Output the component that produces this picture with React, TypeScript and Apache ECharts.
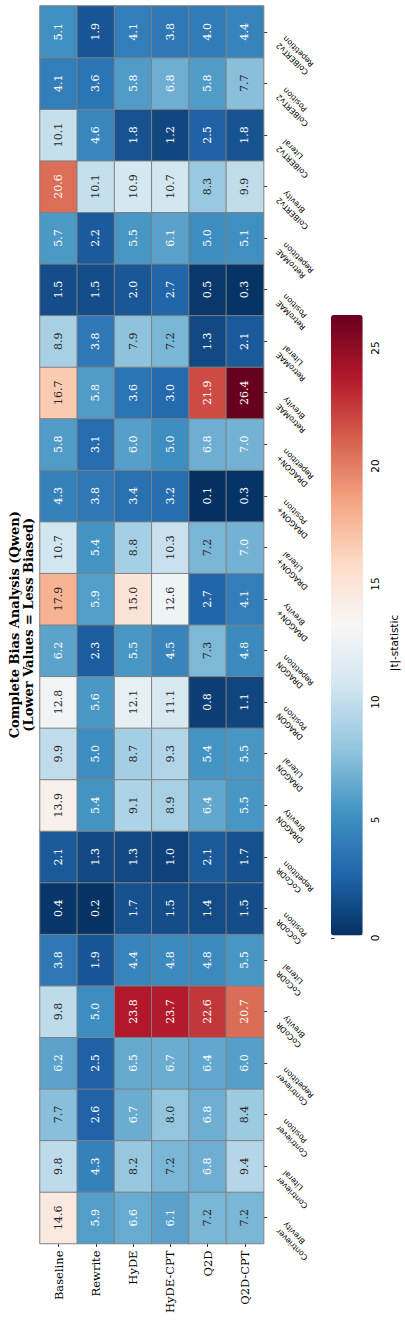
import React, { useEffect, useRef } from "react";
import * as echarts from "echarts";

const methods = ["Baseline", "Rewrite", "HyDE", "HyDE-CPT", "Q2D", "Q2D-CPT"];
const retrievers = ["Contriever", "CoCoDR", "DRAGON", "DRAGON+", "RetroMAE", "ColBERTv2"];
const biasTypes = ["Brevity", "Literal", "Position", "Repetition"];

// values ordered: Contriever Brevity, Literal, Position, Repetition, CoCoDR ..., ColBERTv2 Repetition
const baseline = [14.6, 9.8, 7.7, 6.2, 9.8, 3.8, 0.4, 2.1, 13.9, 9.9, 12.8, 6.2, 17.9, 10.7, 4.3, 5.8, 16.7, 8.9, 1.5, 5.7, 20.6, 10.1, 4.1, 5.1];
const rewrite = [5.9, 4.3, 2.6, 2.5, 5.0, 1.9, 0.2, 1.3, 5.4, 5.0, 5.6, 2.3, 5.9, 5.4, 3.8, 3.1, 5.8, 3.8, 1.5, 2.2, 10.1, 4.6, 3.6, 1.9];
const hyde = [6.6, 8.2, 6.7, 6.5, 23.8, 4.4, 1.7, 1.3, 9.1, 8.7, 12.1, 5.5, 15.0, 8.8, 3.4, 6.0, 3.6, 7.9, 2.0, 5.5, 10.9, 1.8, 5.8, 4.1];
const hydeCpt = [6.1, 7.2, 8.0, 6.7, 23.7, 4.8, 1.5, 1.0, 8.9, 9.3, 11.1, 4.5, 12.6, 10.3, 3.2, 5.0, 3.0, 7.2, 2.7, 6.1, 10.7, 1.2, 6.8, 3.8];
const q2d = [7.2, 6.8, 6.8, 6.4, 22.6, 4.8, 1.4, 2.1, 6.4, 5.4, 0.8, 7.3, 2.7, 7.2, 0.1, 6.8, 21.9, 1.3, 0.5, 5.0, 8.3, 2.5, 5.8, 4.0];
const q2dCpt = [7.2, 9.4, 8.4, 6.0, 20.7, 5.5, 1.5, 1.7, 5.5, 5.5, 1.1, 4.8, 4.1, 7.0, 0.3, 7.0, 26.4, 2.1, 0.3, 5.1, 9.9, 1.8, 7.7, 4.4];

const colorbarTickMax = 25;
const colorbarTickStep = 5;

const titleLines = ["Complete Bias Analysis (Qwen)", "(Lower Values = Less Biased)"];
const colorbarLabel = "|t|-statistic";

const palette = ["#053061", "#2166ac", "#4393c3", "#92c5de", "#d1e5f0", "#f7f7f7", "#fddbc7", "#f4a582", "#d6604d", "#b2182b", "#67001f"];

function hexToRgb(h: string) {
  return [parseInt(h.slice(1, 3), 16) / 255, parseInt(h.slice(3, 5), 16) / 255, parseInt(h.slice(5, 7), 16) / 255];
}

function colorAt(t: number) {
  const p = Math.max(0, Math.min(1, t)) * (palette.length - 1);
  const i = Math.min(palette.length - 2, Math.floor(p));
  const f = p - i;
  const a = hexToRgb(palette[i]);
  const b = hexToRgb(palette[i + 1]);
  return [0, 1, 2].map((k) => a[k] + (b[k] - a[k]) * f);
}

function luminance(rgb: number[]) {
  const lin = rgb.map((c) => (c <= 0.03928 ? c / 12.92 : Math.pow((c + 0.055) / 1.055, 2.4)));
  return 0.2126 * lin[0] + 0.7152 * lin[1] + 0.0722 * lin[2];
}

export default function App() {
  const ref = useRef<HTMLDivElement>(null);
  useEffect(() => {
    if (!ref.current) return;
    const chart = echarts.init(ref.current, null, { renderer: "svg" });
    const columns = [baseline, rewrite, hyde, hydeCpt, q2d, q2dCpt];
    const categories: string[] = [];
    retrievers.forEach((r) => biasTypes.forEach((b) => categories.push(r + "\n" + b)));
    const all = columns.flat();
    const vmin = Math.min(...all);
    const vmax = Math.max(...all);
    const data: any[] = [];
    columns.forEach((col, i) => {
      col.forEach((v, j) => {
        const lum = luminance(colorAt((v - vmin) / (vmax - vmin)));
        data.push({
          value: [i, j, v],
          label: { color: lum > 0.408 ? "#262626" : "#ffffff" },
        });
      });
    });

    const serif = "'DejaVu Serif', 'Liberation Serif', serif";
    const sans = "'DejaVu Sans', 'Liberation Sans', sans-serif";
    const gridLeft = 40;
    const gridTop = 6;
    const gridW = 223.6;
    const gridH = 1237.5;
    const cbTop = 315;
    const cbH = 620.6;
    const pxPerUnit = cbH / (vmax - vmin);

    chart.setOption({
      animation: false,
      backgroundColor: "#ffffff",
      grid: [
        { left: gridLeft, top: gridTop, width: gridW, height: gridH },
        {
          left: 331,
          top: cbTop + (vmax - colorbarTickMax) * pxPerUnit,
          width: 31.7,
          height: colorbarTickMax * pxPerUnit,
        },
      ],
      xAxis: [
        {
          type: "category",
          gridIndex: 0,
          data: methods,
          position: "bottom",
          axisLine: { show: false },
          axisTick: { show: true, alignWithLabel: true, length: 3.5, lineStyle: { color: "#000", width: 0.8 } },
          axisLabel: { rotate: 90, fontFamily: serif, fontSize: 11.5, color: "#000", margin: 7, interval: 0 },
          splitLine: { show: false },
        },
        { type: "value", gridIndex: 1, show: false, min: 0, max: 1 },
      ],
      yAxis: [
        {
          type: "category",
          gridIndex: 0,
          data: categories,
          position: "right",
          axisLine: { show: false },
          axisTick: { show: true, alignWithLabel: true, length: 3.5, lineStyle: { color: "#000", width: 0.8 } },
          axisLabel: {
            rotate: 135,
            interval: 0,
            fontFamily: sans,
            fontSize: 7.8,
            color: "#000",
            margin: 22,
            lineHeight: 9.6,
            align: "right",
            verticalAlign: "bottom",
            padding: [0, 3, 0, 0],
          },
          splitLine: { show: false },
        },
        {
          type: "value",
          gridIndex: 1,
          position: "right",
          min: 0,
          max: colorbarTickMax,
          interval: colorbarTickStep,
          axisLine: { show: false },
          splitLine: { show: false },
          axisTick: { show: true, length: 3.5, lineStyle: { color: "#000", width: 0.8 } },
          axisLabel: { rotate: 90, fontFamily: sans, fontSize: 10.5, color: "#000", margin: 7 },
          name: colorbarLabel,
          nameLocation: "middle",
          nameRotate: 90,
          nameGap: 26,
          nameTextStyle: { fontFamily: sans, fontSize: 10.5, color: "#000" },
        },
      ],
      visualMap: {
        type: "continuous",
        show: true,
        seriesIndex: 0,
        dimension: 2,
        min: vmin,
        max: vmax,
        calculable: false,
        orient: "vertical",
        left: 331,
        top: cbTop,
        padding: 0,
        itemWidth: 31.7,
        itemHeight: cbH,
        text: null,
        inRange: { color: palette },
      },
      graphic: [
        {
          type: "text",
          x: 21,
          y: gridTop + gridH / 2,
          rotation: Math.PI / 2,
          style: {
            text: titleLines.join("\n"),
            align: "center",
            verticalAlign: "middle",
            font: "bold 13px " + serif,
            lineHeight: 14,
            fill: "#000",
          },
        },
      ],
      series: [
        {
          type: "heatmap",
          xAxisIndex: 0,
          yAxisIndex: 0,
          data,
          itemStyle: { borderColor: "#808080", borderWidth: 1 },
          label: {
            show: true,
            rotate: 90,
            fontFamily: serif,
            fontSize: 11,
            formatter: (p: any) => p.value[2].toFixed(1),
          },
          emphasis: { disabled: true },
        },
      ],
    });
    return () => chart.dispose();
  }, []);
  return <div ref={ref} style={{ position: "absolute", left: 0, top: 0, width: 405, height: 1322 }} />;
}
